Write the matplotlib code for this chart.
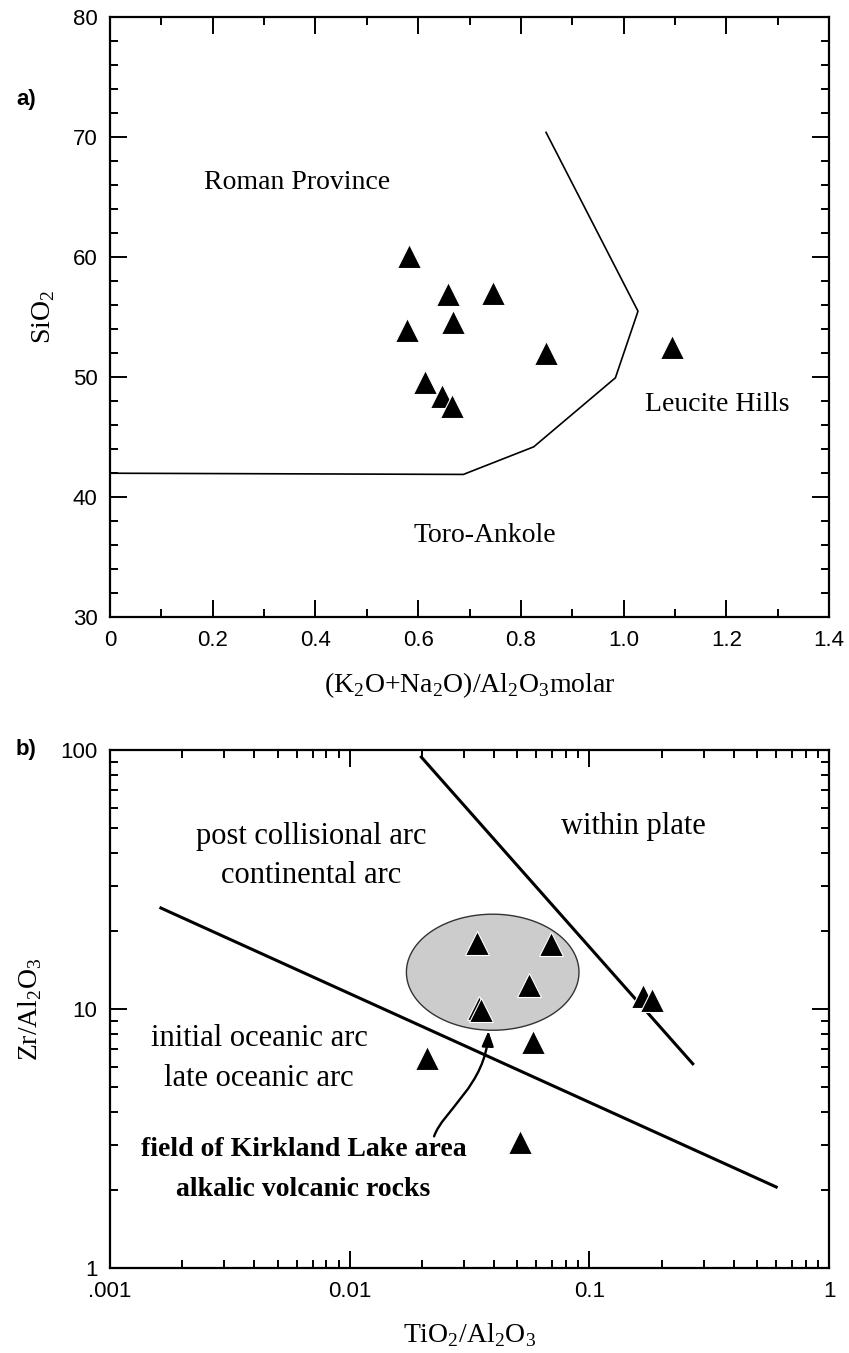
import matplotlib
matplotlib.use('Agg')
import matplotlib.pyplot as plt
import numpy as np
from matplotlib.ticker import MultipleLocator, FuncFormatter, LogLocator, NullFormatter
from matplotlib.patches import FancyArrowPatch
from matplotlib.path import Path

plt.rcParams['font.family'] = ['Liberation Sans', 'DejaVu Sans']

SERIF = 'Liberation Serif'

# panel a) data
a_ratio = [0.582, 0.659, 0.746, 0.668, 0.578, 0.849, 1.095, 0.614, 0.647, 0.665]
a_sio2 = [60.1, 56.9, 57.0, 54.6, 53.9, 52.0, 52.5, 49.6, 48.4, 47.6]
a_bound_x = [0.849, 1.028, 0.984, 0.825, 0.688, 0.0]
a_bound_y = [70.4, 55.5, 49.95, 44.2, 41.9, 42.0]
a_fields = ['Roman Province', 'Leucite Hills', 'Toro-Ankole']
a_field_x = [0.364, 1.182, 0.730]
a_field_y = [66.2, 47.7, 36.8]

# panel b) data
b_ti = [0.0340, 0.0692, 0.0562, 0.0346, 0.0353, 0.0583, 0.0210, 0.168, 0.182, 0.0515]
b_zr = [18.0, 17.9, 12.4, 10.1, 9.95, 7.50, 6.47, 11.27, 10.87, 3.08]
b_upper_x = [0.0199, 0.270]
b_upper_y = [94.1, 6.16]
b_lower_x = [0.00163, 0.602]
b_lower_y = [24.6, 2.06]
b_field_center = (0.0395, 13.9)      # ellipse centre
b_field_half = (0.36, 0.224)         # half axes, in decades
b_arrow_x = [0.0225, 0.0243, 0.0371, 0.0379]
b_arrow_y = [3.23, 4.02, 5.11, 8.25]
b_labels = ['within plate', 'post collisional arc', 'continental arc',
            'initial oceanic arc', 'late oceanic arc']
b_label_x = [0.153, 0.00693, 0.00693, 0.00419, 0.00419]
b_label_y = [50.9, 46.6, 32.7, 7.69, 5.41]
b_bold = ['field of Kirkland Lake area', 'alkalic volcanic rocks']
b_bold_x = [0.00641, 0.00641]
b_bold_y = [2.87, 2.01]

fig = plt.figure(figsize=(8.49, 13.53), dpi=100)
ax1 = fig.add_axes([0.1296, 0.5438, 0.8469, 0.4435])
ax2 = fig.add_axes([0.1296, 0.0626, 0.8469, 0.3829])

for ax in (ax1, ax2):
    for s in ax.spines.values():
        s.set_linewidth(1.6)
    ax.tick_params(which='both', direction='in', top=True, right=True,
                   width=1.4, labelsize=16)
    ax.tick_params(which='major', length=12)
    ax.tick_params(which='minor', length=6)
    ax.tick_params(axis='x', pad=9)
    ax.tick_params(axis='y', pad=9)

# ---- a)
ax1.plot(a_bound_x, a_bound_y, color='black', lw=1.2)
ax1.plot(a_ratio, a_sio2, linestyle='none', marker='^', ms=17.5,
         mfc='black', mec='white', mew=0.8, zorder=5)
for t, x, y in zip(a_fields, a_field_x, a_field_y):
    ax1.text(x, y, t, fontsize=20, family=SERIF, ha='center', va='center')
ax1.set_xlim(0, 1.4)
ax1.set_ylim(30, 80)
ax1.xaxis.set_major_locator(MultipleLocator(0.2))
ax1.xaxis.set_minor_locator(MultipleLocator(0.1))
ax1.yaxis.set_major_locator(MultipleLocator(10))
ax1.yaxis.set_minor_locator(MultipleLocator(2))
ax1.xaxis.set_major_formatter(FuncFormatter(lambda v, p: '0' if abs(v) < 1e-9 else '%.1f' % v))
ax1.set_xlabel(r'(K$_\mathregular{2}$O+Na$_\mathregular{2}$O)/Al$_\mathregular{2}$O$_\mathregular{3}$molar',
               fontsize=20, family=SERIF)
ax1.xaxis.set_label_coords(0.5, -0.113)
ax1.xaxis.label.set_va('center')
ax1.set_ylabel(r'SiO$_\mathregular{2}$', fontsize=20, family=SERIF)
ax1.yaxis.set_label_coords(-0.093, 0.5)
ax1.yaxis.label.set_va('center')

# ---- b)
ax2.set_xscale('log')
ax2.set_yscale('log')
ax2.set_xlim(0.001, 1)
ax2.set_ylim(1, 100)

th = np.linspace(0, 2 * np.pi, 200)
ex = 10 ** (np.log10(b_field_center[0]) + b_field_half[0] * np.cos(th))
ey = 10 ** (np.log10(b_field_center[1]) + b_field_half[1] * np.sin(th))
ax2.fill(ex, ey, facecolor='#cccccc', edgecolor='#333333', lw=1.0, zorder=1)

ax2.plot(b_upper_x, b_upper_y, color='black', lw=2.2, zorder=2)
ax2.plot(b_lower_x, b_lower_y, color='black', lw=2.2, zorder=2)
ax2.plot(b_ti, b_zr, linestyle='none', marker='^', ms=17.5,
         mfc='black', mec='white', mew=0.8, zorder=5)

arrow_path = Path(list(zip(b_arrow_x, b_arrow_y)),
                  [Path.MOVETO, Path.CURVE4, Path.CURVE4, Path.CURVE4])
arr = FancyArrowPatch(path=arrow_path, arrowstyle='-|>,head_length=0.9,head_width=0.35',
                      mutation_scale=10, lw=1.7, color='black',
                      transform=ax2.transData, zorder=4)
ax2.add_patch(arr)

for t, x, y in zip(b_labels, b_label_x, b_label_y):
    ax2.text(x, y, t, fontsize=22, family=SERIF, ha='center', va='center')
for t, x, y in zip(b_bold, b_bold_x, b_bold_y):
    ax2.text(x, y, t, fontsize=20, family=SERIF, fontweight='bold', ha='center', va='center')

ax2.set_xticks([0.001, 0.01, 0.1, 1])
ax2.set_xticklabels(['.001', '0.01', '0.1', '1'])
ax2.set_yticks([1, 10, 100])
ax2.set_yticklabels(['1', '10', '100'])
ax2.xaxis.set_minor_locator(LogLocator(base=10, subs=np.arange(2, 10), numticks=20))
ax2.yaxis.set_minor_locator(LogLocator(base=10, subs=np.arange(2, 10), numticks=20))
ax2.xaxis.set_minor_formatter(NullFormatter())
ax2.yaxis.set_minor_formatter(NullFormatter())
ax2.set_xlabel(r'TiO$_\mathregular{2}$/Al$_\mathregular{2}$O$_\mathregular{3}$', fontsize=20, family=SERIF)
ax2.xaxis.set_label_coords(0.5, -0.129)
ax2.xaxis.label.set_va('center')
ax2.set_ylabel(r'Zr/Al$_\mathregular{2}$O$_\mathregular{3}$', fontsize=20, family=SERIF)
ax2.yaxis.set_label_coords(-0.111, 0.5)
ax2.yaxis.label.set_va('center')

fig.text(26 / 849, 1 - 99 / 1353, 'a)', fontsize=16, fontweight='bold', ha='center', va='center')
fig.text(26 / 849, 1 - 750 / 1353, 'b)', fontsize=16, fontweight='bold', ha='center', va='center')

fig.savefig('out.png', dpi=100)
